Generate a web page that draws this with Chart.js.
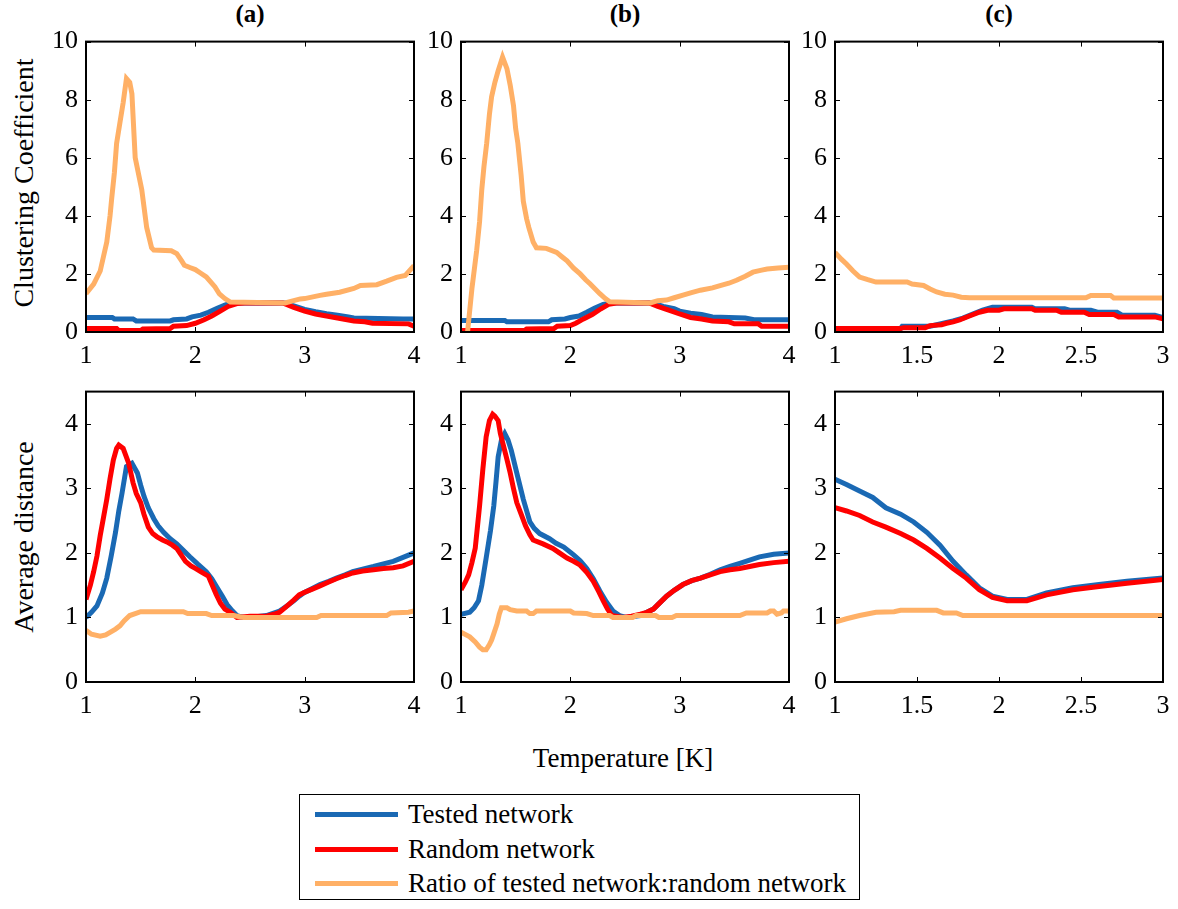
<!DOCTYPE html>
<html lang="en">
<head>
  <meta charset="UTF-8" />
  <title>Clustering coefficient and average distance vs temperature</title>
  <script src="https://cdn.jsdelivr.net/npm/chart.js"></script>
  <style>
    body {
      margin: 0;
      background: #fff;
      font-family: 'Liberation Serif', 'Times New Roman', serif;
      color: #000;
    }
    .page { position: relative; width: 1178px; height: 909px; overflow: hidden; }
    .panel { position: absolute; }
    .title {
      position: absolute;
      font-weight: bold;
      font-size: 25px;
      transform: translateX(-50%);
    }
    .ylabel {
      position: absolute;
      font-size: 28px;
      white-space: nowrap;
      transform: translate(-50%, -50%) rotate(-90deg);
    }
    .xlabel {
      position: absolute;
      font-size: 27px;
      white-space: nowrap;
      transform: translate(-50%, -50%);
    }
    .legend {
      position: absolute;
      left: 299px; top: 794px;
      width: 561px; height: 106px;
      border: 1.5px solid #000;
      box-sizing: border-box;
    }
    .legend .row {
      position: absolute;
      left: 15px;
      height: 30px;
      display: flex;
      align-items: center;
      font-size: 27px;
      white-space: nowrap;
    }
    .legend .swatch { width: 83px; height: 5px; margin-right: 10px; }
  </style>
</head>
<body>
<div class="page" id="page">
  <div class="title" style="left:250px; top:0px;">(a)</div>
  <div class="title" style="left:625px; top:0px;">(b)</div>
  <div class="title" style="left:999px; top:0px;">(c)</div>
  <div class="ylabel" style="left:24px; top:183px;">Clustering Coefficient</div>
  <div class="ylabel" style="left:24px; top:537px;">Average distance</div>
  <div class="xlabel" style="left:623px; top:758px;">Temperature [K]</div>
  <div class="legend">
    <div class="row" style="top:4px;"><span class="swatch" style="background:#1a69b4"></span>Tested network</div>
    <div class="row" style="top:39px;"><span class="swatch" style="background:#ff0000"></span>Random network</div>
    <div class="row" style="top:73px;"><span class="swatch" style="background:#ffb066"></span>Ratio of tested network:random network</div>
  </div>
</div>

<script>
  // series names and colours
  const seriesNames = ['Tested network', 'Random network', 'Ratio of tested network:random network'];
  const seriesColors = ['#1a69b4', '#ff0000', '#ffb066'];

  // tick labels
  const ccTicks = [0, 2, 4, 6, 8, 10];
  const adTicks = [0, 1, 2, 3, 4];
  const tempTicksAB = [1, 2, 3, 4];
  const tempTicksC = [1, 1.5, 2, 2.5, 3];

  // clustering coefficient, panel (a)
  const ccA_tested = [[1,0.5],[1.24,0.5],[1.26,0.45],[1.43,0.45],[1.46,0.38],[1.77,0.38],[1.8,0.42],[1.92,0.45],[1.97,0.52],[2.05,0.58],[2.12,0.68],[2.2,0.82],[2.27,0.93],[2.33,1.0],[2.82,1.0],[2.9,0.9],[3.0,0.78],[3.1,0.7],[3.2,0.63],[3.3,0.58],[3.4,0.52],[3.45,0.48],[3.9,0.45],[4,0.45]];
  const ccA_random = [[1,0.12],[1.28,0.12],[1.3,0.05],[1.5,0.05],[1.52,0.1],[1.77,0.12],[1.8,0.2],[1.92,0.22],[2.0,0.3],[2.08,0.42],[2.15,0.55],[2.22,0.7],[2.3,0.88],[2.38,0.98],[2.45,1.0],[2.8,1.0],[2.9,0.85],[3.0,0.72],[3.1,0.62],[3.2,0.55],[3.3,0.48],[3.45,0.38],[3.55,0.35],[3.62,0.3],[3.95,0.28],[4,0.2]];
  const ccA_ratio = [[1,1.32],[1.07,1.65],[1.13,2.1],[1.16,2.6],[1.19,3.1],[1.22,4.0],[1.235,4.6],[1.26,5.5],[1.28,6.5],[1.31,7.2],[1.34,7.9],[1.37,8.73],[1.4,8.6],[1.42,8.2],[1.45,6.0],[1.51,4.9],[1.555,3.6],[1.6,2.9],[1.62,2.82],[1.78,2.8],[1.83,2.7],[1.875,2.45],[1.9,2.3],[1.95,2.22],[2.0,2.15],[2.04,2.05],[2.1,1.9],[2.13,1.77],[2.18,1.55],[2.22,1.31],[2.27,1.15],[2.32,1.03],[2.82,1.0],[2.9,1.08],[2.96,1.14],[3.0,1.15],[3.14,1.26],[3.2,1.3],[3.32,1.37],[3.45,1.5],[3.51,1.6],[3.66,1.63],[3.75,1.75],[3.84,1.88],[3.92,1.95],[4,2.28]];

  // clustering coefficient, panel (b)
  const ccB_tested = [[1,0.4],[1.4,0.4],[1.42,0.35],[1.8,0.35],[1.83,0.42],[1.95,0.45],[2.0,0.5],[2.08,0.55],[2.15,0.68],[2.22,0.82],[2.3,0.95],[2.38,1.0],[2.75,1.0],[2.85,0.88],[2.95,0.8],[3.0,0.72],[3.1,0.65],[3.2,0.6],[3.3,0.52],[3.6,0.48],[3.68,0.42],[4,0.42]];
  const ccB_random = [[1,0.05],[1.58,0.05],[1.6,0.1],[1.85,0.12],[1.88,0.2],[2.0,0.22],[2.05,0.3],[2.12,0.45],[2.2,0.6],[2.28,0.8],[2.35,0.95],[2.42,1.0],[2.72,1.0],[2.8,0.88],[2.9,0.75],[3.0,0.62],[3.1,0.5],[3.2,0.45],[3.3,0.38],[3.45,0.35],[3.5,0.28],[3.72,0.28],[3.75,0.2],[4,0.2]];
  const ccB_ratio = [[1.06,0],[1.1,1.5],[1.143,2.8],[1.17,3.8],[1.19,4.9],[1.21,5.7],[1.235,6.5],[1.26,7.5],[1.28,8.1],[1.31,8.6],[1.34,9.0],[1.38,9.47],[1.42,9.07],[1.45,8.5],[1.48,7.8],[1.5,7.0],[1.52,6.5],[1.55,5.4],[1.57,4.5],[1.6,3.9],[1.62,3.6],[1.66,3.1],[1.69,2.9],[1.78,2.88],[1.875,2.74],[1.92,2.6],[1.97,2.45],[2.03,2.2],[2.09,2.0],[2.14,1.8],[2.18,1.66],[2.27,1.32],[2.32,1.15],[2.36,1.04],[2.73,1.0],[2.8,1.08],[2.88,1.1],[2.95,1.18],[3.03,1.27],[3.1,1.35],[3.19,1.44],[3.3,1.52],[3.37,1.6],[3.45,1.68],[3.52,1.78],[3.6,1.92],[3.67,2.06],[3.75,2.13],[3.8,2.17],[3.9,2.2],[4,2.23]];

  // clustering coefficient, panel (c)
  const ccC_tested = [[1,0.12],[1.4,0.12],[1.41,0.2],[1.58,0.2],[1.62,0.25],[1.66,0.3],[1.72,0.38],[1.78,0.48],[1.84,0.62],[1.9,0.75],[1.96,0.85],[2.2,0.85],[2.22,0.8],[2.4,0.8],[2.43,0.75],[2.56,0.75],[2.6,0.68],[2.72,0.68],[2.75,0.58],[2.95,0.58],[3,0.5]];
  const ccC_random = [[1,0.12],[1.4,0.12],[1.42,0.15],[1.55,0.15],[1.58,0.22],[1.65,0.25],[1.68,0.3],[1.72,0.35],[1.76,0.42],[1.82,0.55],[1.88,0.68],[1.93,0.75],[2.0,0.75],[2.03,0.8],[2.2,0.8],[2.22,0.75],[2.35,0.75],[2.38,0.68],[2.52,0.68],[2.55,0.6],[2.7,0.6],[2.73,0.52],[2.95,0.52],[3,0.45]];
  const ccC_ratio = [[1,2.74],[1.04,2.5],[1.07,2.34],[1.11,2.1],[1.15,1.89],[1.2,1.8],[1.25,1.72],[1.44,1.72],[1.47,1.65],[1.54,1.6],[1.58,1.48],[1.62,1.38],[1.67,1.3],[1.72,1.27],[1.77,1.2],[1.82,1.18],[2.53,1.18],[2.56,1.26],[2.68,1.26],[2.7,1.17],[3,1.17]];

  // average distance, panel (a)
  const adA_tested = [[1,1.0],[1.05,1.08],[1.1,1.18],[1.15,1.38],[1.19,1.61],[1.23,1.95],[1.27,2.32],[1.3,2.65],[1.33,2.93],[1.37,3.34],[1.42,3.39],[1.47,3.24],[1.5,3.05],[1.53,2.88],[1.57,2.7],[1.62,2.53],[1.66,2.42],[1.71,2.32],[1.77,2.22],[1.83,2.14],[1.89,2.04],[1.95,1.94],[2.02,1.83],[2.1,1.71],[2.15,1.6],[2.2,1.46],[2.25,1.32],[2.29,1.2],[2.34,1.1],[2.38,1.03],[2.44,1.0],[2.5,1.0],[2.65,1.03],[2.77,1.1],[2.84,1.18],[2.9,1.26],[2.95,1.33],[2.99,1.38],[3.07,1.45],[3.14,1.51],[3.22,1.56],[3.29,1.61],[3.37,1.66],[3.44,1.71],[3.53,1.75],[3.63,1.79],[3.72,1.83],[3.81,1.87],[3.9,1.93],[4,2.0]];
  const adA_random = [[1,1.28],[1.04,1.5],[1.07,1.71],[1.1,1.95],[1.13,2.27],[1.16,2.55],[1.19,2.83],[1.22,3.15],[1.25,3.44],[1.28,3.62],[1.3,3.67],[1.34,3.62],[1.39,3.39],[1.43,3.09],[1.46,2.92],[1.5,2.78],[1.53,2.6],[1.57,2.4],[1.61,2.3],[1.65,2.25],[1.7,2.2],[1.74,2.17],[1.79,2.12],[1.83,2.07],[1.87,1.97],[1.91,1.87],[1.96,1.8],[2.0,1.76],[2.06,1.7],[2.12,1.64],[2.15,1.52],[2.19,1.36],[2.23,1.22],[2.27,1.13],[2.32,1.08],[2.38,1.0],[2.5,1.02],[2.65,1.02],[2.72,1.05],[2.77,1.08],[2.84,1.18],[2.9,1.27],[2.95,1.35],[3.0,1.39],[3.07,1.44],[3.14,1.49],[3.22,1.55],[3.29,1.6],[3.37,1.65],[3.44,1.69],[3.53,1.72],[3.63,1.74],[3.72,1.76],[3.81,1.77],[3.9,1.8],[4,1.87]];
  const adA_ratio = [[1,0.8],[1.05,0.74],[1.13,0.71],[1.18,0.73],[1.22,0.77],[1.27,0.82],[1.31,0.87],[1.35,0.95],[1.4,1.03],[1.45,1.06],[1.5,1.09],[1.89,1.09],[1.93,1.06],[2.1,1.06],[2.15,1.03],[2.35,1.03],[2.44,1.0],[3.11,1.0],[3.15,1.03],[3.75,1.03],[3.79,1.07],[3.95,1.08],[4,1.1]];

  // average distance, panel (b)
  const adB_tested = [[1,1.05],[1.08,1.08],[1.12,1.15],[1.16,1.26],[1.19,1.5],[1.23,1.92],[1.27,2.35],[1.3,2.73],[1.32,3.1],[1.34,3.49],[1.37,3.75],[1.4,3.85],[1.43,3.75],[1.46,3.59],[1.51,3.24],[1.57,2.83],[1.63,2.48],[1.67,2.38],[1.72,2.3],[1.81,2.22],[1.87,2.15],[1.94,2.09],[2.03,1.97],[2.09,1.88],[2.15,1.76],[2.21,1.6],[2.27,1.41],[2.33,1.24],[2.39,1.1],[2.45,1.03],[2.51,1.0],[2.64,1.03],[2.76,1.13],[2.82,1.23],[2.88,1.33],[2.95,1.42],[3.03,1.51],[3.11,1.57],[3.19,1.61],[3.28,1.67],[3.37,1.74],[3.46,1.79],[3.55,1.84],[3.64,1.89],[3.73,1.94],[3.86,1.98],[4,2.0]];
  const adB_random = [[1,1.43],[1.04,1.55],[1.07,1.66],[1.1,1.85],[1.13,2.07],[1.15,2.4],[1.17,2.73],[1.2,3.3],[1.23,3.8],[1.26,4.05],[1.29,4.15],[1.31,4.12],[1.34,4.05],[1.36,3.85],[1.39,3.65],[1.42,3.45],[1.45,3.24],[1.48,3.0],[1.51,2.78],[1.55,2.6],[1.59,2.42],[1.63,2.28],[1.66,2.2],[1.75,2.14],[1.84,2.07],[1.9,2.0],[1.97,1.92],[2.03,1.87],[2.09,1.81],[2.15,1.7],[2.21,1.56],[2.26,1.4],[2.3,1.26],[2.34,1.13],[2.38,1.03],[2.48,1.0],[2.56,1.02],[2.64,1.05],[2.7,1.08],[2.76,1.13],[2.82,1.23],[2.88,1.33],[2.95,1.42],[3.03,1.51],[3.11,1.57],[3.19,1.61],[3.28,1.66],[3.37,1.71],[3.46,1.74],[3.55,1.76],[3.64,1.79],[3.73,1.82],[3.86,1.85],[4,1.87]];
  const adB_ratio = [[1,0.77],[1.08,0.7],[1.13,0.62],[1.17,0.54],[1.2,0.5],[1.23,0.5],[1.26,0.58],[1.28,0.65],[1.3,0.75],[1.33,0.9],[1.35,1.05],[1.37,1.15],[1.42,1.15],[1.45,1.12],[1.51,1.1],[1.6,1.1],[1.63,1.06],[1.66,1.06],[1.69,1.1],[2.0,1.1],[2.03,1.07],[2.15,1.06],[2.21,1.03],[2.36,1.03],[2.39,1.0],[2.57,1.0],[2.6,1.03],[2.78,1.03],[2.81,1.0],[2.93,1.0],[2.97,1.03],[3.55,1.03],[3.61,1.07],[3.8,1.07],[3.83,1.1],[3.86,1.1],[3.89,1.05],[3.93,1.07],[3.95,1.1],[4,1.1]];

  // average distance, panel (c)
  const adC_tested = [[1,3.14],[1.07,3.06],[1.15,2.96],[1.23,2.86],[1.31,2.7],[1.4,2.6],[1.48,2.48],[1.56,2.32],[1.64,2.12],[1.72,1.87],[1.8,1.66],[1.88,1.46],[1.96,1.33],[2.05,1.28],[2.17,1.28],[2.29,1.38],[2.45,1.46],[2.61,1.51],[2.78,1.56],[3,1.61]];
  const adC_random = [[1,2.7],[1.07,2.65],[1.15,2.58],[1.23,2.48],[1.31,2.4],[1.4,2.3],[1.48,2.2],[1.56,2.07],[1.64,1.92],[1.72,1.76],[1.8,1.61],[1.88,1.43],[1.96,1.31],[2.05,1.26],[2.17,1.26],[2.29,1.35],[2.45,1.43],[2.61,1.48],[2.78,1.53],[3,1.59]];
  const adC_ratio = [[1,0.93],[1.07,0.98],[1.15,1.03],[1.25,1.08],[1.36,1.09],[1.4,1.11],[1.62,1.11],[1.66,1.07],[1.74,1.07],[1.78,1.03],[3,1.03]];

  // panel boxes: plot area left/top/width/height on the page
  const PAD_L = 70, PAD_T = 20, PAD_R = 20, PAD_B = 45;
  const panels = [
    { x: 86,  y: 38,  w: 328, h: 294, xmax: 4, xt: tempTicksAB, ymax: 10,  yt: ccTicks, series: [ccA_tested, ccA_random, ccA_ratio] },
    { x: 461, y: 38,  w: 328, h: 294, xmax: 4, xt: tempTicksAB, ymax: 10,  yt: ccTicks, series: [ccB_tested, ccB_random, ccB_ratio] },
    { x: 835, y: 38,  w: 328, h: 294, xmax: 3, xt: tempTicksC,  ymax: 10,  yt: ccTicks, series: [ccC_tested, ccC_random, ccC_ratio] },
    { x: 86,  y: 388, w: 328, h: 294, xmax: 4, xt: tempTicksAB, ymax: 4.5, yt: adTicks, series: [adA_tested, adA_random, adA_ratio] },
    { x: 461, y: 388, w: 328, h: 294, xmax: 4, xt: tempTicksAB, ymax: 4.5, yt: adTicks, series: [adB_tested, adB_random, adB_ratio] },
    { x: 835, y: 388, w: 328, h: 294, xmax: 3, xt: tempTicksC,  ymax: 4.5, yt: adTicks, series: [adC_tested, adC_random, adC_ratio] }
  ];

  // box around the plot area with short inward ticks on all four sides
  const frameTicks = {
    id: 'frameTicks',
    afterDatasetsDraw(chart) {
      const { ctx, chartArea: a, scales: { x, y } } = chart;
      const len = 5;
      ctx.save();
      ctx.strokeStyle = '#000';
      ctx.lineWidth = 1;
      ctx.beginPath();
      x.ticks.forEach(t => {
        const px = Math.round(x.getPixelForValue(t.value)) + 0.5;
        ctx.moveTo(px, a.bottom); ctx.lineTo(px, a.bottom - len);
        ctx.moveTo(px, a.top);    ctx.lineTo(px, a.top + len);
      });
      y.ticks.forEach(t => {
        const py = Math.round(y.getPixelForValue(t.value)) + 0.5;
        ctx.moveTo(a.left, py);  ctx.lineTo(a.left + len, py);
        ctx.moveTo(a.right, py); ctx.lineTo(a.right - len, py);
      });
      ctx.stroke();
      ctx.lineWidth = 2;
      ctx.strokeRect(a.left, a.top, a.right - a.left, a.bottom - a.top);
      ctx.restore();
    }
  };

  const tickFont = { family: "'Liberation Serif', 'Times New Roman', serif", size: 26 };
  const page = document.getElementById('page');

  panels.forEach(p => {
    const wrap = document.createElement('div');
    wrap.className = 'panel';
    wrap.style.left = (p.x - PAD_L) + 'px';
    wrap.style.top = (p.y - PAD_T) + 'px';
    wrap.style.width = (p.w + PAD_L + PAD_R) + 'px';
    wrap.style.height = (p.h + PAD_T + PAD_B) + 'px';
    const canvas = document.createElement('canvas');
    wrap.appendChild(canvas);
    page.appendChild(wrap);

    const datasets = p.series.map((pts, i) => ({
      label: seriesNames[i],
      data: pts.map(([t, v]) => ({ x: t, y: v })),
      borderColor: seriesColors[i],
      borderWidth: 5,
      pointRadius: 0,
      tension: 0,
      fill: false,
      order: 3 - i
    }));

    new Chart(canvas, {
      type: 'line',
      data: { datasets },
      options: {
        responsive: true,
        maintainAspectRatio: false,
        animation: false,
        events: [],
        layout: { padding: { left: 0, top: PAD_T, right: PAD_R, bottom: 0 } },
        plugins: { legend: { display: false }, tooltip: { enabled: false } },
        scales: {
          x: {
            type: 'linear',
            min: 1, max: p.xmax,
            grid: { display: false, drawTicks: false },
            border: { display: false },
            afterBuildTicks: s => { s.ticks = p.xt.map(v => ({ value: v })); },
            afterFit: s => { s.height = PAD_B; },
            ticks: { font: tickFont, color: '#000', padding: 9, maxRotation: 0, autoSkip: false, callback: v => String(v) }
          },
          y: {
            type: 'linear',
            min: 0, max: p.ymax,
            grid: { display: false, drawTicks: false },
            border: { display: false },
            afterBuildTicks: s => { s.ticks = p.yt.map(v => ({ value: v })); },
            afterFit: s => { s.width = PAD_L; },
            ticks: { font: tickFont, color: '#000', padding: 8, autoSkip: false, callback: v => String(v) }
          }
        }
      },
      plugins: [frameTicks]
    });
  });
</script>
</body>
</html>
